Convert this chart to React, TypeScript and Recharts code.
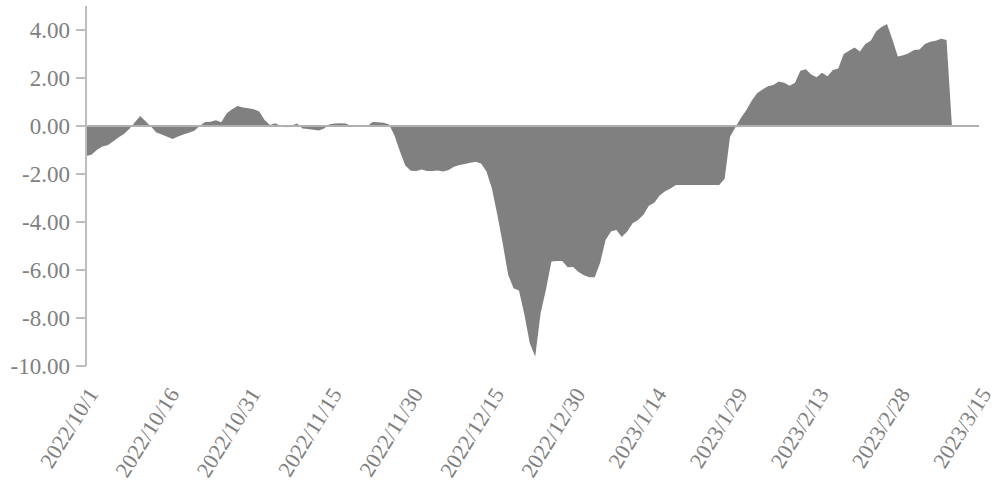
import React from 'react';
import { AreaChart, Area, XAxis, YAxis, ReferenceLine } from 'recharts';

// daily categories, 2022/10/1 .. 2023/3/15
const START = new Date(2022, 9, 1);
const DAY_COUNT = 166;
const dates: string[] = [];
for (let i = 0; i < DAY_COUNT; i++) {
  const d = new Date(START.getFullYear(), START.getMonth(), START.getDate() + i);
  dates.push(`${d.getFullYear()}/${d.getMonth() + 1}/${d.getDate()}`);
}

// values, one per day
const values: number[] = [
  -1.25, -1.2, -1.0, -0.85, -0.8, -0.65, -0.48, -0.33, -0.12, 0.15,
  0.42, 0.2, -0.02, -0.27, -0.35, -0.45, -0.54, -0.44, -0.35, -0.28,
  -0.2, 0.0, 0.17, 0.18, 0.24, 0.16, 0.53, 0.7, 0.83, 0.77,
  0.74, 0.7, 0.6, 0.25, 0.04, 0.11, 0.0, -0.05, 0.02, 0.1,
  -0.1, -0.13, -0.16, -0.19, -0.1, 0.07, 0.1, 0.11, 0.1, 0.0,
  0.0, 0.0, 0.0, 0.17, 0.16, 0.14, 0.06, -0.4, -1.05, -1.65,
  -1.86, -1.88, -1.81, -1.88, -1.87, -1.85, -1.9, -1.83, -1.7, -1.62,
  -1.58, -1.53, -1.49, -1.56, -1.9, -2.6, -3.7, -4.9, -6.2, -6.76,
  -6.85, -7.85, -9.05, -9.6, -7.8, -6.8, -5.65, -5.62, -5.62, -5.89,
  -5.88, -6.08, -6.22, -6.3, -6.3, -5.7, -4.75, -4.4, -4.33, -4.62,
  -4.4, -4.05, -3.92, -3.7, -3.32, -3.2, -2.9, -2.72, -2.6, -2.46,
  -2.46, -2.46, -2.46, -2.46, -2.46, -2.46, -2.46, -2.46, -2.2, -0.45,
  -0.05, 0.33, 0.66, 1.05, 1.36, 1.52, 1.66, 1.71, 1.85, 1.8,
  1.68, 1.8, 2.3, 2.36, 2.15, 2.03, 2.22, 2.07, 2.33, 2.4,
  3.0, 3.14, 3.27, 3.1, 3.42, 3.55, 3.95, 4.12, 4.25, 3.6,
  2.9, 2.95, 3.03, 3.17, 3.19, 3.42, 3.51, 3.55, 3.64, 3.58,
  0, 0, 0, 0, 0, 0,
];

const yTicks = [-10, -8, -6, -4, -2, 0, 2, 4];

const data = dates.map((date, i) => ({ date, value: values[i] }));

const FONT = '"Liberation Serif", "Times New Roman", serif';

// rotated date label
const DateTick = (props: any) => {
  const { x, y, payload } = props;
  return (
    <g transform={`translate(${x + 13},${y + 20})`}>
      <text x={0} y={0} textAnchor="end" transform="rotate(-58)" fill="#808080" fontSize={22} fontFamily={FONT}>
        {payload.value}
      </text>
    </g>
  );
};

export default function App() {
  return (
    <div style={{ position: 'absolute', left: 0, top: 0, width: 998, height: 496, background: '#fff' }}>
      <AreaChart width={998} height={496} data={data} margin={{ top: 6, right: 19, bottom: 5, left: 0 }}>
        <XAxis
          dataKey="date"
          interval={14}
          axisLine={false}
          tickLine={false}
          height={125}
          tick={<DateTick />}
        />
        <YAxis
          type="number"
          domain={[-10, 5]}
          ticks={yTicks}
          width={86}
          tickSize={10}
          tickMargin={6}
          tickFormatter={(v: number) => v.toFixed(2)}
          axisLine={{ stroke: '#bdbdbd', strokeWidth: 2 }}
          tickLine={{ stroke: '#bdbdbd', strokeWidth: 2 }}
          tick={{ fill: '#808080', fontSize: 23, fontFamily: FONT }}
        />
        <Area
          type="linear"
          dataKey="value"
          baseValue={0}
          fill="#808080"
          fillOpacity={1}
          stroke="none"
          isAnimationActive={false}
        />
        <ReferenceLine y={0} stroke="#b0b0b0" strokeWidth={2} />
      </AreaChart>
    </div>
  );
}
